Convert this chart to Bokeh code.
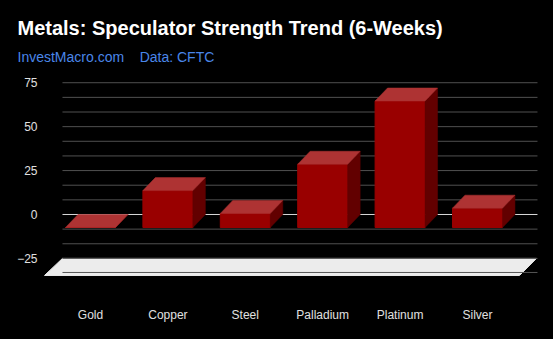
from bokeh.plotting import figure
from bokeh.models import Range1d, FixedTicker, Title, ColumnDataSource
from bokeh.embed import file_html
from bokeh.resources import INLINE

# ---- data ----
categories = ["Gold", "Copper", "Steel", "Palladium", "Platinum", "Silver"]
strength = [0, 21, 8, 36, 72, 11]
y_ticks = [-25, 0, 25, 50, 75]
title_text = "Metals: Speculator Strength Trend (6-Weeks)"
subtitle_text = "InvestMacro.com\u00a0\u00a0\u00a0\u00a0Data: CFTC"

# ---- geometry / style (data units) ----
BAR_W = 0.646
DX = 0.161
DY = 7.4
X_LO, X_HI = -0.646, 5.814
Y_LO, Y_HI = -43.26, 81.96
GRID_X0, GRID_X1 = -0.362, 5.775
FLOOR_TOP, FLOOR_BOT = -25.0, -34.7
FLOOR_TL, FLOOR_TR, FLOOR_BL, FLOOR_BR = -0.362, 5.762, -0.594, 5.543
AXIS_LINE_Y = -33.0

FRONT = "#990000"
TOP = "#ae3333"
SIDE = "#620000"
FONT = "Liberation Sans"

p = figure(width=553, height=339, x_range=Range1d(X_LO, X_HI), y_range=Range1d(Y_LO, Y_HI),
           output_backend="svg", toolbar_location=None,
           min_border_left=40, min_border_right=13, min_border_top=70, min_border_bottom=49,
           background_fill_color="black", border_fill_color="black", outline_line_color=None)
p.styles = {"background-color": "black"}
p.xgrid.visible = False
p.ygrid.visible = False

# floor
p.patch([FLOOR_BL, FLOOR_TL, FLOOR_TR, FLOOR_BR], [FLOOR_BOT, FLOOR_TOP, FLOOR_TOP, FLOOR_BOT],
        fill_color="#ececec", line_color="#ececec", line_width=1)
p.segment(x0=[GRID_X0], y0=[AXIS_LINE_Y], x1=[GRID_X1], y1=[AXIS_LINE_Y], line_color="#555555", line_width=1)

# gridlines
grid_vals = [y_ticks[0] + k * (y_ticks[1] - y_ticks[0]) / 3 for k in range(13)]
grid_cols = ["#d8d8d8" if abs(v) < 1e-9 else "#505050" for v in grid_vals]
p.segment(x0=[GRID_X0] * len(grid_vals), y0=grid_vals, x1=[GRID_X1] * len(grid_vals), y1=grid_vals,
          line_color=grid_cols, line_width=1)

# 3D columns
xs = list(range(len(categories)))
left = [x - BAR_W / 2 for x in xs]
right = [x + BAR_W / 2 for x in xs]
src = ColumnDataSource(dict(left=left, right=right, bottom=[-DY] * len(xs),
                            top=[v - DY for v in strength]))
p.quad(left="left", right="right", bottom="bottom", top="top", source=src,
       fill_color=FRONT, line_color=FRONT, line_width=1)

side_xs = [[r, r, r + DX, r + DX] for r in right]
side_ys = [[-DY, v - DY, v, 0] for v in strength]
p.patches(side_xs, side_ys, fill_color=SIDE, line_color=SIDE, line_width=0.5)

top_xs = [[l, r, r + DX, l + DX] for l, r in zip(left, right)]
top_ys = [[v - DY, v - DY, v, v] for v in strength]
p.patches(top_xs, top_ys, fill_color=TOP, line_color=TOP, line_width=0.5)

# axes
ya = p.yaxis[0]
ya.ticker = FixedTicker(ticks=y_ticks)
ya.axis_line_color = None
ya.major_tick_line_color = None
ya.minor_tick_line_color = None
ya.major_tick_out = 0
ya.major_tick_in = 0
ya.major_label_standoff = 3
ya.major_label_text_color = "#e0e0e0"
ya.major_label_text_font = FONT
ya.major_label_text_font_size = "12px"

xa = p.xaxis[0]
xa.ticker = FixedTicker(ticks=xs)
xa.major_label_overrides = {i: c for i, c in zip(xs, categories)}
xa.axis_line_color = None
xa.major_tick_line_color = None
xa.minor_tick_line_color = None
xa.major_tick_out = 0
xa.major_tick_in = 0
xa.major_label_standoff = 17
xa.major_label_text_color = "#e0e0e0"
xa.major_label_text_font = FONT
xa.major_label_text_font_size = "12px"

# titles
p.add_layout(Title(text=subtitle_text, text_color="#4a86e8", text_font=FONT, text_font_size="14px",
                   text_font_style="normal", align="left", offset=-23, standoff=11), "above")
p.add_layout(Title(text=title_text, text_color="white", text_font=FONT, text_font_size="20px",
                   text_font_style="bold", align="left", offset=-23, standoff=5), "above")

open("out.html", "w").write(file_html(p, INLINE))
